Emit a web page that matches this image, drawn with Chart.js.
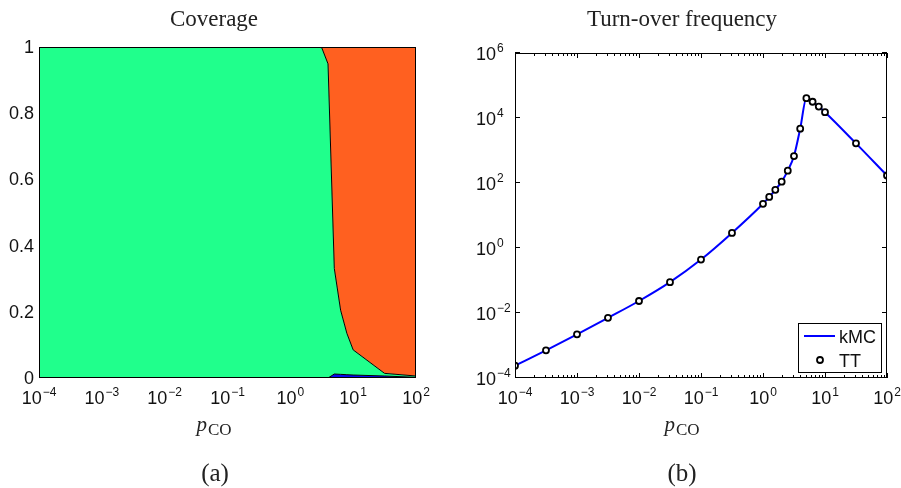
<!DOCTYPE html>
<html><head><meta charset="utf-8">
<script src="https://cdn.jsdelivr.net/npm/chart.js@4.4.0/dist/chart.umd.min.js"></script>
<style>
html,body{margin:0;padding:0;background:#fff;width:901px;height:488px;overflow:hidden}
#c1{position:absolute;left:0;top:0;width:450px;height:488px}
#c2{position:absolute;left:450px;top:0;width:451px;height:488px}
</style></head><body>
<canvas id="c1" width="450" height="488"></canvas>
<canvas id="c2" width="451" height="488"></canvas>
<script>
// ---------- data ----------
const pCO = [1e-4, 3.16e-4, 1e-3, 3.16e-3, 0.01, 0.0316, 0.1, 0.316, 1,
             1.26, 1.58, 2.0, 2.51, 3.16, 3.98, 5.01, 6.31, 7.94, 10, 31.6, 100];
// coverage fractions (stacked: blue bottom, green middle, orange top)
const covBlue   = [0,0,0,0,0,0,0,0,0, 0,0,0,0,0,0, 0.012,0.011,0.010,0.009,0.006,0.002];
const covGreen  = [1,1,1,1,1,1,1,1,1, 1,1,1,1,0.998,0.949, 0.319,0.194,0.125,0.076,0.008,0.004];
const covOrange = [0,0,0,0,0,0,0,0,0, 0,0,0,0,0.002,0.051, 0.669,0.795,0.865,0.915,0.986,0.994];
// turn-over frequency
const tofKMC = [2.4e-4, 7.1e-4, 2.2e-3, 7.1e-3, 0.0234, 0.089, 0.44, 2.9, 22.9,
                37.2, 61.7, 110, 240, 676, 4680, 40700, 31600, 22400, 15100, 1660, 170];
const tofTT  = [2.4e-4, 7.1e-4, 2.2e-3, 7.1e-3, 0.0234, 0.089, 0.44, 2.9, 22.9,
                37.2, 61.7, 110, 240, 676, 4680, 40700, 31600, 22400, 15100, 1660, 170];
const xTickExps = [-4, -3, -2, -1, 0, 1, 2];
const tofYTickExps = [-4, -2, 0, 2, 4, 6];
const covYTicks = [0, 0.2, 0.4, 0.6, 0.8, 1];
const covYTickLabels = ['0', '0.2', '0.4', '0.6', '0.8', '1'];
const seriesNames = ['kMC', 'TT'];
const titles = ['Coverage', 'Turn-over frequency'];
const panelLabels = ['(a)', '(b)'];

// ---------- helpers ----------
const SANS = '"Liberation Sans", Arial, Helvetica, sans-serif';
const SERIF = '"Liberation Serif", "Times New Roman", serif';
const TXT = '#111';
const pts = (ys) => pCO.map((x, i) => ({x: x, y: ys[i]}));

function drawPow(ctx, x, y, exp, mode) {
  const b = '10', e = exp < 0 ? '\u2212' + (-exp) : String(exp);
  ctx.font = '18px ' + SANS; const wb = ctx.measureText(b).width;
  ctx.font = '12px ' + SANS; const we = ctx.measureText(e).width;
  const x0 = mode === 'center' ? x - (wb + we + 1) / 2 : x - wb;
  ctx.textAlign = 'left'; ctx.textBaseline = 'alphabetic'; ctx.fillStyle = TXT;
  ctx.font = '18px ' + SANS; ctx.fillText(b, x0, y);
  ctx.font = '12px ' + SANS; ctx.fillText(e, x0 + wb + 1, y - 8);
}
function drawPCO(ctx, cx, baseline) {
  ctx.font = 'italic 21px ' + SERIF; const wp = ctx.measureText('p').width;
  ctx.font = '17px ' + SERIF; const wc = ctx.measureText('CO').width;
  const x0 = cx - (wp + wc + 1) / 2;
  ctx.textAlign = 'left'; ctx.textBaseline = 'alphabetic'; ctx.fillStyle = '#222';
  ctx.font = 'italic 21px ' + SERIF; ctx.fillText('p', x0, baseline);
  ctx.font = '17px ' + SERIF; ctx.fillText('CO', x0 + wp + 1, baseline + 4);
}
function drawTextC(ctx, s, cx, baseline, font) {
  ctx.font = font; ctx.textAlign = 'center'; ctx.textBaseline = 'alphabetic';
  ctx.fillStyle = '#222'; ctx.fillText(s, cx, baseline);
}
function boxOf(ctx, ca) {
  ctx.save(); ctx.strokeStyle = '#000'; ctx.lineWidth = 1;
  ctx.strokeRect(Math.round(ca.left) + 0.5, Math.round(ca.top) + 0.5,
                 Math.round(ca.right - ca.left) - 1, Math.round(ca.bottom - ca.top) - 1);
  ctx.restore();
}

// ---------- left: coverage ----------
const covPlugin = {
  id: 'covDeco',
  afterDraw(chart) {
    const ctx = chart.ctx, ca = chart.chartArea, xs = chart.scales.x, ys = chart.scales.y;
    ctx.save();
    boxOf(ctx, ca);
    // y labels
    ctx.font = '18px ' + SANS; ctx.fillStyle = TXT; ctx.textAlign = 'right'; ctx.textBaseline = 'middle';
    covYTicks.forEach((v, i) => ctx.fillText(covYTickLabels[i], ca.left - 5, ys.getPixelForValue(v) + 1));
    // x labels
    xTickExps.forEach(e => drawPow(ctx, xs.getPixelForValue(Math.pow(10, e)), 404, e, 'center'));
    drawPCO(ctx, 214, 431);
    drawTextC(ctx, titles[0], 214, 26, '23px ' + SERIF);
    drawTextC(ctx, panelLabels[0], 215, 481, '25px ' + SERIF);
    ctx.restore();
  }
};
new Chart(document.getElementById('c1'), {
  type: 'line',
  data: { datasets: [
    { label: 'blue', data: pts(covBlue), backgroundColor: '#0808F0', borderColor: '#000', borderWidth: 1, pointRadius: 0, fill: 'origin', tension: 0 },
    { label: 'green', data: pts(covGreen), backgroundColor: '#20FF8C', borderColor: '#000', borderWidth: 1, pointRadius: 0, fill: '-1', tension: 0 },
    { label: 'orange', data: pts(covOrange), backgroundColor: '#FF6020', borderColor: '#000', borderWidth: 1, pointRadius: 0, fill: '-1', tension: 0 }
  ]},
  options: {
    responsive: false, animation: false, devicePixelRatio: 1,
    layout: { padding: { top: 47, right: 34, left: 0, bottom: 0 } },
    plugins: { legend: { display: false }, tooltip: { enabled: false } },
    scales: {
      x: { type: 'logarithmic', min: 1e-4, max: 100, ticks: { display: false }, grid: { display: false }, border: { display: false },
           afterFit(s) { s.height = 110; } },
      y: { type: 'linear', min: 0, max: 1, stacked: true, ticks: { display: false }, grid: { display: false }, border: { display: false },
           afterFit(s) { s.width = 39; } }
    }
  },
  plugins: [covPlugin]
});

// ---------- right: TOF ----------
const tofPlugin = {
  id: 'tofDeco',
  beforeDatasetsDraw(chart) {
    const ctx = chart.ctx, ca = chart.chartArea, xs = chart.scales.x, ys = chart.scales.y;
    ctx.save(); ctx.strokeStyle = '#000'; ctx.lineWidth = 1;
    ctx.beginPath();
    for (let d = -4; d <= 2; d++) {
      const px = Math.round(xs.getPixelForValue(Math.pow(10, d))) + 0.5;
      ctx.moveTo(px, ca.bottom); ctx.lineTo(px, ca.bottom - 5);
      ctx.moveTo(px, ca.top); ctx.lineTo(px, ca.top + 5);
      if (d < 2) for (let m = 2; m <= 9; m++) {
        const q = Math.round(xs.getPixelForValue(m * Math.pow(10, d))) + 0.5;
        ctx.moveTo(q, ca.bottom); ctx.lineTo(q, ca.bottom - 3);
        ctx.moveTo(q, ca.top); ctx.lineTo(q, ca.top + 3);
      }
    }
    tofYTickExps.forEach(e => {
      const py = Math.round(ys.getPixelForValue(Math.pow(10, e))) - 0.5;
      ctx.moveTo(ca.left, py); ctx.lineTo(ca.left + 5, py);
      ctx.moveTo(ca.right, py); ctx.lineTo(ca.right - 5, py);
    });
    ctx.stroke(); ctx.restore();
  },
  afterDraw(chart) {
    const ctx = chart.ctx, ca = chart.chartArea, xs = chart.scales.x, ys = chart.scales.y;
    ctx.save();
    boxOf(ctx, ca);
    tofYTickExps.forEach(e => drawPow(ctx, ca.left - 19, ys.getPixelForValue(Math.pow(10, e)) + 7, e, 'baseRight'));
    xTickExps.forEach(e => drawPow(ctx, xs.getPixelForValue(Math.pow(10, e)), 404, e, 'center'));
    drawPCO(ctx, 682 - 450, 431);
    drawTextC(ctx, titles[1], 682 - 450, 26, '23px ' + SERIF);
    drawTextC(ctx, panelLabels[1], 682 - 450, 481, '25px ' + SERIF);
    // legend
    const L = 348, T = 323, R = 432, B = 373;
    ctx.fillStyle = '#fff'; ctx.fillRect(L, T, R - L, B - T);
    ctx.strokeStyle = '#000'; ctx.lineWidth = 1; ctx.strokeRect(L + 0.5, T + 0.5, R - L - 1, B - T - 1);
    ctx.strokeStyle = '#0000FF'; ctx.lineWidth = 2;
    ctx.beginPath(); ctx.moveTo(354, 336); ctx.lineTo(385, 336); ctx.stroke();
    ctx.beginPath(); ctx.arc(370, 360, 3, 0, Math.PI * 2);
    ctx.fillStyle = '#fff'; ctx.fill(); ctx.strokeStyle = '#000'; ctx.lineWidth = 1.8; ctx.stroke();
    ctx.font = '18px ' + SANS; ctx.fillStyle = TXT; ctx.textAlign = 'left'; ctx.textBaseline = 'alphabetic';
    ctx.fillText(seriesNames[0], 389, 343);
    ctx.fillText(seriesNames[1], 389, 367);
    ctx.restore();
  }
};
new Chart(document.getElementById('c2'), {
  type: 'line',
  data: { datasets: [
    { label: seriesNames[1], data: pts(tofTT), showLine: false, pointRadius: 3, pointBorderWidth: 1.8,
      pointBorderColor: '#000', pointBackgroundColor: '#fff', borderColor: '#000', order: 0 },
    { label: seriesNames[0], data: pts(tofKMC), borderColor: '#0000FF', borderWidth: 2, pointRadius: 0,
      fill: false, cubicInterpolationMode: 'monotone', order: 1 }
  ]},
  options: {
    responsive: false, animation: false, devicePixelRatio: 1,
    layout: { padding: { top: 53, right: 14, left: 0, bottom: 0 } },
    plugins: { legend: { display: false }, tooltip: { enabled: false } },
    scales: {
      x: { type: 'logarithmic', min: 1e-4, max: 100, ticks: { display: false }, grid: { display: false }, border: { display: false },
           afterFit(s) { s.height = 110; } },
      y: { type: 'logarithmic', min: 1e-4, max: 1e6, ticks: { display: false }, grid: { display: false }, border: { display: false },
           afterFit(s) { s.width = 65; } }
    }
  },
  plugins: [tofPlugin]
});
</script>
</body></html>
